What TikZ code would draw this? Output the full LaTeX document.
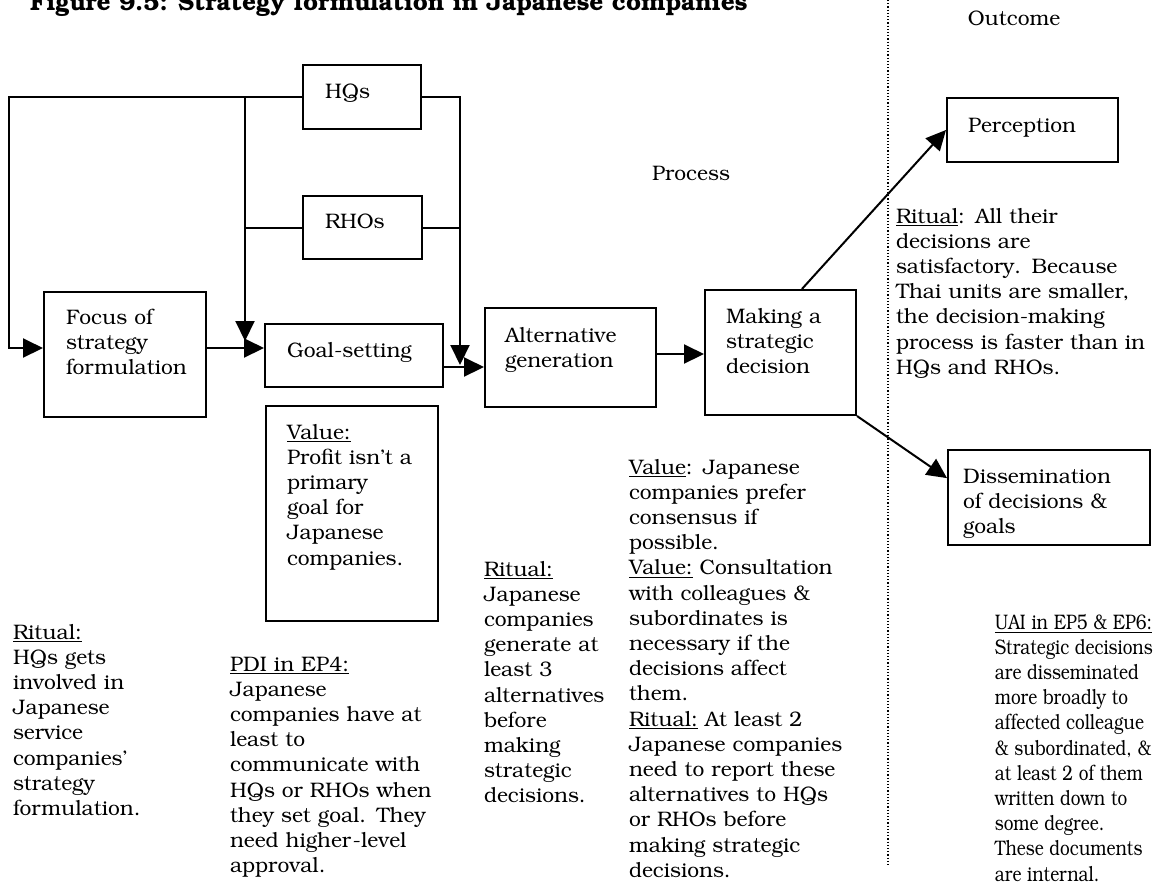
\documentclass[tikz,border=0pt]{standalone}
\usepackage[T1]{fontenc}
\usepackage{bookman}
\usetikzlibrary{arrows.meta,calc}

\tikzset{
  blk/.style n args={4}{draw,line width=1pt,align=left,inner sep=0pt,
    minimum width=#1,minimum height=#2,text width=#3,text height=7.5pt,text depth=#4},
  note/.style={anchor=base west,align=left,inner sep=0pt,text width=#1},
  arr/.style={line width=1pt,-{Triangle[length=10pt,width=9.5pt]}},
}

\begin{document}
\begin{tikzpicture}[x=0.5pt,y=-0.5pt,line width=1pt,font=\fontsize{10.5}{12.6}\selectfont]
\useasboundingbox (0,0) rectangle (1159,885);

% title and the two column headings
\node[anchor=base west,inner sep=0pt,font=\fontsize{12.2}{14}\selectfont\bfseries] (title) at (29,10)
  {Figure 9.5: Strategy formulation in Japanese companies};
\node (process) at (691,173) {Process};
\node (outcome) at (1014,18) {Outcome};
\coordinate (divtop) at (888,0);
\coordinate (divbot) at (888,867);
\draw[densely dotted,line width=0.6pt] (divtop) -- (divbot);

% boxes
\node[blk={81pt}{62.5pt}{59pt}{38pt}] (focus) at (125,354.5) {Focus of\\strategy\\formulation};
\node[blk={89pt}{31.5pt}{67pt}{6pt}] (goal) at (354,355.5) {Goal-setting};
\node[blk={59pt}{32pt}{37pt}{6.5pt}] (hq) at (362,97) {HQs};
\node[blk={59.5pt}{31.5pt}{37.5pt}{7pt}] (rho) at (362.5,227.5) {RHOs};
\node[blk={85.5pt}{49.5pt}{65.5pt}{23pt}] (alt) at (570.5,357.5) {Alternative\\generation};
\node[blk={75.5pt}{62.5pt}{54.5pt}{37pt}] (make) at (780.5,352.5) {Making a\\strategic\\decision};
\node[blk={85.5pt}{32pt}{64.5pt}{5.5pt}] (perc) at (1032.5,130) {Perception};
\node[blk={101pt}{47.5pt}{86pt}{22pt}] (diss) at (1049,497.5) {Dissemination\\of decisions \&\\goals};
\node[blk={86pt}{107.5pt}{65pt}{82pt}] (valbox) at (352,513.5)
  {\underline{Value:}\\Profit isn't a\\primary\\goal for\\Japanese\\companies.};

% notes under the boxes
\node[note=75pt] (ritualA) at (12,639)
  {\underline{Ritual:}\\HQs gets\\involved in\\Japanese\\service\\companies'\\strategy\\formulation.};
\node[note=110pt] (pdi) at (229,671)
  {\underline{PDI in EP4:}\\Japanese\\companies have at\\least to\\communicate with\\HQs or RHOs when\\they set goal. They\\need higher-level\\approval.};
\node[note=70pt] (ritualB) at (483,576)
  {\underline{Ritual:}\\Japanese\\companies\\generate at\\least 3\\alternatives\\before\\making\\strategic\\decisions.};
\node[note=120pt] (valueC) at (628,474)
  {\underline{Value}: Japanese\\companies prefer\\consensus if\\possible.\\\underline{Value:} Consultation\\with colleagues \&\\subordinates is\\necessary if the\\decisions affect\\them.\\\underline{Ritual:} At least 2\\Japanese companies\\need to report these\\alternatives to HQs\\or RHOs before\\making strategic\\decisions.};
\node[note=135pt] (ritualD) at (895,223)
  {\underline{Ritual}: All their\\decisions are\\satisfactory. Because\\Thai units are smaller,\\the decision-making\\process is faster than in\\HQs and RHOs.};
% the right-hand column is set a little narrower
\begin{scope}[shift={(994,629)},xscale=0.82]
\node[note=120pt,transform shape] (uai) at (0,0)
  {\underline{UAI in EP5 \& EP6:}\\Strategic decisions\\are disseminated\\more broadly to\\affected colleague\\\& subordinated, \&\\at least 2 of them\\written down to\\some degree.\\These documents\\are internal.};
\end{scope}

% HQs / RHOs rails
\coordinate (railL) at (9,97);
\coordinate (railA) at (245,97);
\coordinate (railB) at (460,97);
\draw[arr] (hq.west) -- (railL) |- (focus.west |- 0,348);
\draw[arr] (railA) -- (railA |- 0,341);
\draw (rho.west) -- (rho.west -| railA);
\draw[arr] (hq.east) -- (railB) -- (railB |- 0,365);
\draw (rho.east) -- (rho.east -| railB);

% main flow
\draw[arr] (focus.east |- 0,348) -- (goal.west |- 0,348);
\draw[arr] (goal.east |- 0,367) -- (alt.west |- 0,367);
\draw[arr] (alt.east |- 0,354) -- (make.west |- 0,354);
\draw[arr] ($(make.north west)!0.64!(make.north east)$) -- (perc.west);
\draw[arr] (make.south east) -- ($(diss.north west)!0.3!(diss.south west)$);
\end{tikzpicture}
\end{document}
